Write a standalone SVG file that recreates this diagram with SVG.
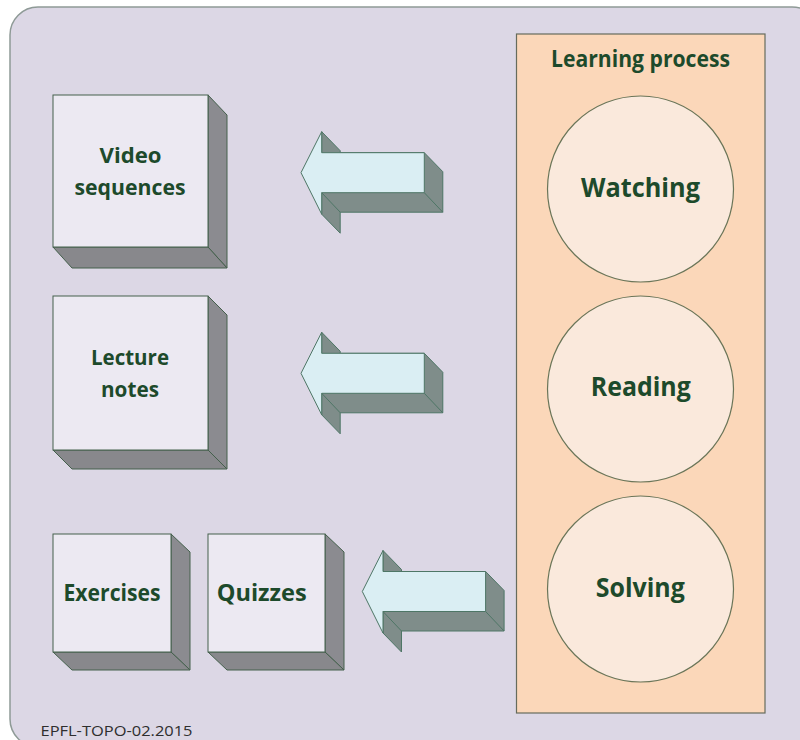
<svg xmlns="http://www.w3.org/2000/svg" width="800" height="740" viewBox="0 0 800 740">
  <defs>
    <style>
      .lbl { font-family: "Open Sans", "Lato", "Liberation Sans", sans-serif; font-weight: 700; fill: #1d4a2b; text-anchor: middle; }
      .front { fill: #ece9f2; stroke: #44604c; stroke-width: 1; }
      .side { fill: #8b8b90; stroke: #44604c; stroke-width: 1; }
      .bottom { fill: #88888c; stroke: #44604c; stroke-width: 1; }
      .circ { fill: #fae9dc; stroke: #6a7558; stroke-width: 1.2; }
      .afront { fill: #daeef3; stroke: #4e7666; stroke-width: 1; stroke-linejoin: round; }
      .ashade { fill: #7f8d8a; stroke: #4e7666; stroke-width: 1; stroke-linejoin: round; }
      .aedge { stroke: #4e7666; stroke-width: 1; fill: none; }
    </style>
  </defs>

  <rect width="800" height="740" fill="#ffffff"/>
  <rect id="background" x="10" y="7" width="810" height="740" rx="28" ry="28" fill="#dcd7e5" stroke="#8e9a96" stroke-width="1.5"/>

  <g id="learning-process">
    <rect x="516.5" y="34" width="248.5" height="679" fill="#fbd7b9" stroke="#666b5c" stroke-width="1.2"/>
    <text class="lbl" x="640.5" y="66.5" font-size="22.5" textLength="179" lengthAdjust="spacingAndGlyphs">Learning process</text>
  </g>

  <g id="watching">
    <circle class="circ" cx="640.5" cy="189" r="93"/>
    <text class="lbl" x="640.5" y="197" font-size="27.5" textLength="119" lengthAdjust="spacingAndGlyphs">Watching</text>
  </g>
  <g id="reading">
    <circle class="circ" cx="640.5" cy="389" r="93"/>
    <text class="lbl" x="640.8" y="396" font-size="27" textLength="100" lengthAdjust="spacingAndGlyphs">Reading</text>
  </g>
  <g id="solving">
    <circle class="circ" cx="640.5" cy="589" r="93"/>
    <text class="lbl" x="640.3" y="596.5" font-size="27" textLength="89" lengthAdjust="spacingAndGlyphs">Solving</text>
  </g>

  <g id="video-sequences">
    <polygon class="side" points="208,95 227,115 227,268 208,247"/>
    <polygon class="bottom" points="53,247 208,247 227,268 72,268"/>
    <rect class="front" x="53" y="95" width="155" height="152"/>
    <text class="lbl" x="130.5" y="163" font-size="22" textLength="62" lengthAdjust="spacingAndGlyphs">Video</text>
    <text class="lbl" x="130" y="195" font-size="22" textLength="111" lengthAdjust="spacingAndGlyphs">sequences</text>
  </g>

  <g id="lecture-notes">
    <polygon class="side" points="208,296 227,315 227,469 208,450"/>
    <polygon class="bottom" points="53,450 208,450 227,469 72,469"/>
    <rect class="front" x="53" y="296" width="155" height="154"/>
    <text class="lbl" x="130" y="365" font-size="22" textLength="78" lengthAdjust="spacingAndGlyphs">Lecture</text>
    <text class="lbl" x="130" y="396.5" font-size="22" textLength="58" lengthAdjust="spacingAndGlyphs">notes</text>
  </g>

  <g id="exercises">
    <polygon class="side" points="171,534 190,552 190,670 171,652"/>
    <polygon class="bottom" points="53,652 171,652 190,670 72,670"/>
    <rect class="front" x="53" y="534" width="118" height="118"/>
    <text class="lbl" x="112" y="601" font-size="22.5" textLength="97" lengthAdjust="spacingAndGlyphs">Exercises</text>
  </g>

  <g id="quizzes">
    <polygon class="side" points="325,534 344,552 344,670 325,652"/>
    <polygon class="bottom" points="208,652 325,652 344,670 227,670"/>
    <rect class="front" x="208" y="534" width="117" height="118"/>
    <text class="lbl" x="261.7" y="601" font-size="22.5" textLength="90" lengthAdjust="spacingAndGlyphs">Quizzes</text>
  </g>

  <g id="connectors">
    <g id="arrow-watching" transform="translate(301,172.7)">
      <polygon class="ashade" points="20.7,-41 39.2,-22 39.2,-20 123.3,-20 141.8,-1 141.8,39.5 39.2,39.5 39.2,60.5 20.7,41.5"/>
      <polygon class="afront" points="0,0 20.7,-41 20.7,-20 123.3,-20 123.3,20 20.7,20 20.7,41.5"/>
      <line class="aedge" x1="123.3" y1="20" x2="141.8" y2="39.5"/>
      <line class="aedge" x1="20.7" y1="20" x2="39.2" y2="39.5"/>
    </g>
    <g id="arrow-reading" transform="translate(301,373.3)">
      <polygon class="ashade" points="20.7,-41 39.2,-22 39.2,-20 123.3,-20 141.8,-1 141.8,39.5 39.2,39.5 39.2,60.5 20.7,41.5"/>
      <polygon class="afront" points="0,0 20.7,-41 20.7,-20 123.3,-20 123.3,20 20.7,20 20.7,41.5"/>
      <line class="aedge" x1="123.3" y1="20" x2="141.8" y2="39.5"/>
      <line class="aedge" x1="20.7" y1="20" x2="39.2" y2="39.5"/>
    </g>
    <g id="arrow-solving" transform="translate(362.3,591.5)">
      <polygon class="ashade" points="20.7,-41 39.2,-22 39.2,-20 123.3,-20 141.8,-1 141.8,39.5 39.2,39.5 39.2,60.5 20.7,41.5"/>
      <polygon class="afront" points="0,0 20.7,-41 20.7,-20 123.3,-20 123.3,20 20.7,20 20.7,41.5"/>
      <line class="aedge" x1="123.3" y1="20" x2="141.8" y2="39.5"/>
      <line class="aedge" x1="20.7" y1="20" x2="39.2" y2="39.5"/>
    </g>
  </g>

  <text x="40.5" y="735.5" font-family="'Open Sans', Lato, 'Liberation Sans', sans-serif" font-size="14.5" fill="#2e2e2e" textLength="152" lengthAdjust="spacingAndGlyphs">EPFL-TOPO-02.2015</text>
</svg>
